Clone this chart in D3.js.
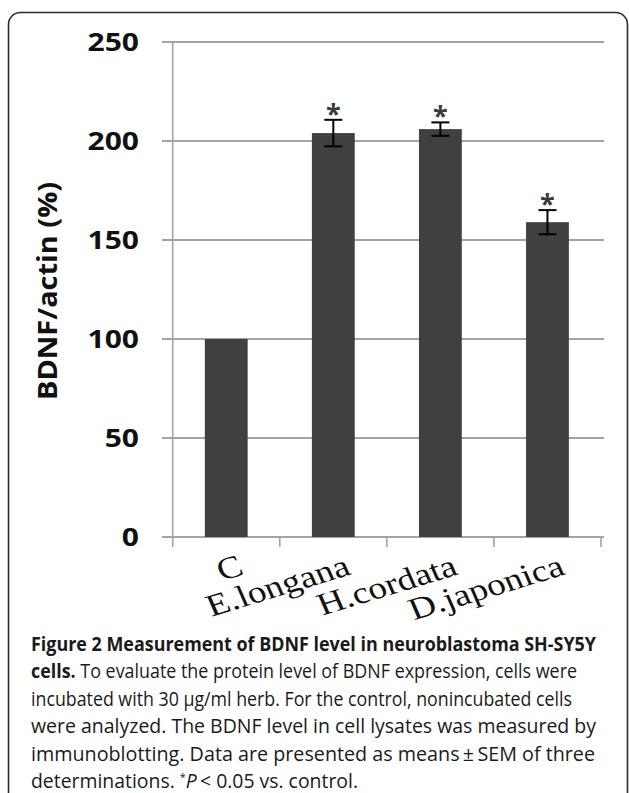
<!DOCTYPE html>
<html>
<head>
<meta charset="utf-8">
<script src="https://cdn.jsdelivr.net/npm/d3@7/dist/d3.min.js"></script>
<style>
  body { margin: 0; background: #fff; }
</style>
</head>
<body>
<script>
// Chart data
var categories = ["C", "E.longana", "H.cordata", "D.japonica"];
var means      = [100, 204, 206, 159];
var sems       = [0, 6.7, 3.4, 6.1];
var signif     = [false, true, true, true];
var yTicks     = [0, 50, 100, 150, 200, 250];
var yTitle     = "BDNF/actin (%)";

// Caption lines: each is a list of [text, style] runs
var caption = [
  [["Figure 2 Measurement of BDNF level in neuroblastoma SH-SY5Y", "b"]],
  [["cells.", "b"], [" To evaluate the protein level of BDNF expression, cells were", ""]],
  [["incubated with 30 \u03bcg/ml herb. For the control, nonincubated cells", ""]],
  [["were analyzed. The BDNF level in cell lysates was measured by", ""]],
  [["immunoblotting. Data are presented as means\u2009\u00b1\u2009SEM of three", ""]],
  [["determinations. ", ""], ["*", "sup"], ["P", "i"], ["\u2009< 0.05 vs. control.", ""]]
];
var captionEnds = [596, 577, 572, 596, 595, 358];

// Layout
var W = 629, H = 793;
var axisX = 172.7, plotRight = 601, gridRight = 604, gridLeft = 162;
var yTop = 42, yBottom = 537;
var stretch = 1.2;   // the original figure is stretched sideways

var svg = d3.select("body").append("svg")
    .attr("width", W)
    .attr("height", H);

// Frame round the figure
svg.append("rect")
    .attr("x", 8.5).attr("y", 12.5)
    .attr("width", 619).attr("height", 900)
    .attr("rx", 12)
    .attr("fill", "none")
    .attr("stroke", "#2b2b2b")
    .attr("stroke-width", 1.6);

var x = d3.scaleBand().domain(categories).range([axisX, plotRight]).padding(0);
var y = d3.scaleLinear().domain([0, 250]).range([yBottom, yTop]);

// Gridlines (they also serve as the y ticks)
svg.append("g").selectAll("line").data(yTicks).join("line")
    .attr("x1", gridLeft).attr("x2", gridRight)
    .attr("y1", function(d) { return y(d); })
    .attr("y2", function(d) { return y(d); })
    .attr("stroke", "#a3a3a3")
    .attr("stroke-width", 2);

// y axis line
svg.append("line")
    .attr("x1", axisX).attr("x2", axisX)
    .attr("y1", y(250)).attr("y2", yBottom + 10)
    .attr("stroke", "#a3a3a3").attr("stroke-width", 1.6);

// category ticks on the x axis
var bounds = categories.map(function(c) { return x(c); }).concat([x(categories[3]) + x.bandwidth()]);
svg.append("g").selectAll("line").data(bounds.slice(1)).join("line")
    .attr("x1", function(d) { return d; }).attr("x2", function(d) { return d; })
    .attr("y1", yBottom).attr("y2", yBottom + 10)
    .attr("stroke", "#a3a3a3").attr("stroke-width", 1.6);

// y tick labels
svg.append("g").selectAll("text").data(yTicks).join("text")
    .attr("transform", function(d) { return "translate(139," + (y(d) + 9) + ") scale(" + stretch + ",1)"; })
    .attr("text-anchor", "end")
    .attr("font-family", "'Open Sans', sans-serif")
    .attr("font-weight", "bold")
    .attr("font-size", 25)
    .attr("fill", "#111")
    .text(function(d) { return d; });

// y title
svg.append("text")
    .attr("transform", "translate(57,291) rotate(-90)")
    .attr("text-anchor", "middle")
    .attr("font-family", "'Open Sans', sans-serif")
    .attr("font-weight", "bold")
    .attr("font-size", 26)
    .attr("textLength", 218)
    .attr("lengthAdjust", "spacingAndGlyphs")
    .attr("fill", "#111")
    .text(yTitle);

// Bars
var barW = x.bandwidth() * 0.4;
var rows = categories.map(function(c, i) { return {cat: c, m: means[i], e: sems[i], s: signif[i]}; });

svg.append("g").selectAll("rect").data(rows).join("rect")
    .attr("x", function(d) { return x(d.cat) + (x.bandwidth() - barW) / 2; })
    .attr("y", function(d) { return y(d.m); })
    .attr("width", barW)
    .attr("height", function(d) { return yBottom - y(d.m); })
    .attr("fill", "#404040");

// Error bars
var eb = svg.append("g").attr("stroke", "#000").attr("stroke-width", 2);
rows.filter(function(d) { return d.e > 0; }).forEach(function(d) {
    var cx = x(d.cat) + x.bandwidth() / 2;
    eb.append("line").attr("x1", cx).attr("x2", cx).attr("y1", y(d.m + d.e)).attr("y2", y(d.m - d.e));
    eb.append("line").attr("x1", cx - 9).attr("x2", cx + 9).attr("y1", y(d.m + d.e)).attr("y2", y(d.m + d.e));
    eb.append("line").attr("x1", cx - 9).attr("x2", cx + 9).attr("y1", y(d.m - d.e)).attr("y2", y(d.m - d.e));
});

// Significance stars
svg.append("g").selectAll("text").data(rows.filter(function(d) { return d.s; })).join("text")
    .attr("x", function(d) { return x(d.cat) + x.bandwidth() / 2; })
    .attr("y", function(d) { return y(d.m + d.e) + 3; })
    .attr("text-anchor", "middle")
    .attr("font-family", "'Open Sans', sans-serif")
    .attr("font-weight", "bold")
    .attr("font-size", 27)
    .attr("fill", "#3a3a3a")
    .text("*");

// Category labels, rotated, serif
svg.append("g").selectAll("text").data(categories).join("text")
    .attr("transform", function(d) {
        var ex = x(d) + x.bandwidth() / 2 + 19;
        return "translate(" + ex + ",574) scale(" + stretch + ",1) rotate(-20)";
    })
    .attr("text-anchor", "end")
    .attr("font-family", "'Liberation Serif', 'Times New Roman', serif")
    .attr("font-size", 31)
    .attr("fill", "#111")
    .text(function(d) { return d; });

// Caption
var cap = svg.append("g")
    .attr("font-family", "'Open Sans', sans-serif")
    .attr("font-size", 19.5)
    .attr("fill", "#1a1a1a");

caption.forEach(function(line, i) {
    var t = cap.append("text")
        .attr("x", 31)
        .attr("y", 651 + i * 27.4)
        .attr("textLength", captionEnds[i] - 31)
        .attr("lengthAdjust", "spacingAndGlyphs");
    line.forEach(function(run, k) {
        var ts = t.append("tspan").text(run[0]);
        if (run[1] == "b") ts.attr("font-weight", "bold");
        if (run[1] == "i") ts.attr("font-style", "italic");
        if (run[1] == "sup") ts.attr("font-size", 11).attr("dy", -7);
        if (k > 0 && line[k - 1][1] == "sup") ts.attr("dy", 7);
    });
});
</script>
</body>
</html>
